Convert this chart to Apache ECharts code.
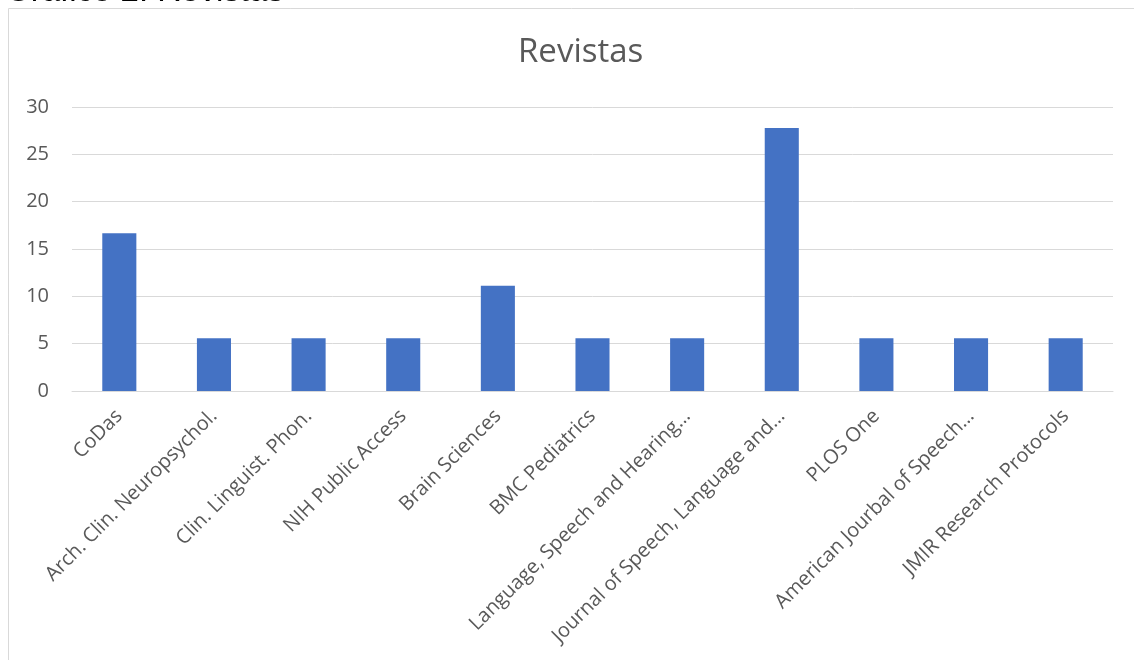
<!DOCTYPE html>
<html>
<head>
<meta charset="utf-8">
<script src="https://cdn.jsdelivr.net/npm/echarts@6/dist/echarts.min.js"></script>
<style>
html,body{margin:0;padding:0;background:#fff;}
#chart{width:1134px;height:660px;}
</style>
</head>
<body>
<div id="chart"></div>
<script>
const categories = ["CoDas","Arch. Clin. Neuropsychol.","Clin. Linguist. Phon.","NIH Public Access","Brain Sciences","BMC Pediatrics","Language, Speech and Hearing…","Journal of Speech, Language and…","PLOS One","American Jourbal of Speech…","JMIR Research Protocols"];
const values = [16.67,5.56,5.56,5.56,11.11,5.56,5.56,27.78,5.56,5.56,5.56];
const yTicks = [0,5,10,15,20,25,30];

const chart = echarts.init(document.getElementById('chart'));
chart.setOption({
  animation:false,
  title:{text:'Revistas',left:513,top:31,textStyle:{fontFamily:'Open Sans',fontSize:33,fontWeight:'normal',color:'#595959'}},
  graphic:[
    {type:'rect',shape:{x:8.5,y:8.5,width:1140,height:700},style:{fill:'none',stroke:'#d9d9d9',lineWidth:1}},
    {type:'text',x:5,y:8,style:{text:'Gráfico 2: Revistas',font:'33px Arial',fill:'#000',verticalAlign:'bottom'}}
  ],
  grid:{left:72,right:21,top:107,bottom:269},
  xAxis:{type:'category',data:categories,
    axisLine:{lineStyle:{color:'#d9d9d9',width:1}},axisTick:{show:false},
    axisLabel:{rotate:45,interval:0,margin:22,fontFamily:'Open Sans',fontSize:20,color:'#595959'}},
  yAxis:{type:'value',min:yTicks[0],max:yTicks[yTicks.length-1],interval:5,
    axisLine:{show:false},axisTick:{show:false},
    splitLine:{lineStyle:{color:'#d9d9d9',width:1}},
    axisLabel:{margin:23,fontFamily:'Open Sans',fontSize:20,color:'#595959'}},
  series:[{type:'bar',data:values,barWidth:'36%',itemStyle:{color:'#4472c4'}}]
});
</script>
</body>
</html>
